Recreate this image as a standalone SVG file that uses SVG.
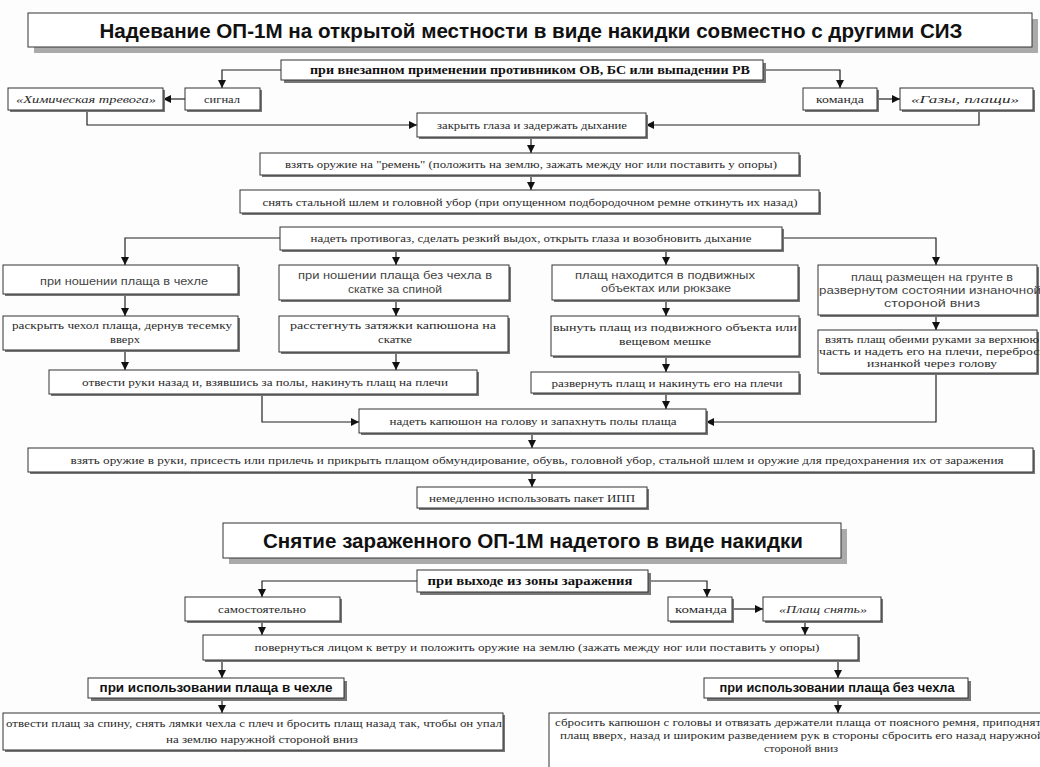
<svg xmlns="http://www.w3.org/2000/svg" width="1040" height="767" viewBox="0 0 1040 767">
<style>
.b{fill:#fff;stroke:#333;stroke-width:1}
.sh{fill:#777}
.tsh{fill:#aaa}
.s{font-family:"Liberation Serif",serif;font-size:11px;fill:#2a2a2a;text-anchor:middle;dominant-baseline:central}
.i{font-style:italic}
.sb{font-family:"Liberation Serif",serif;font-size:12px;font-weight:bold;fill:#111;text-anchor:middle;dominant-baseline:central}
.a{font-family:"Liberation Sans",sans-serif;font-size:11.5px;fill:#444;text-anchor:middle;dominant-baseline:central}
.ab{font-family:"Liberation Sans",sans-serif;font-size:12px;font-weight:bold;fill:#111;text-anchor:middle;dominant-baseline:central}
.t{font-family:"Liberation Sans",sans-serif;font-size:20px;font-weight:bold;fill:#111;text-anchor:middle;dominant-baseline:central}
.c{fill:none;stroke:#222;stroke-width:1.2}
</style>
<defs>
<marker id="ar" markerUnits="userSpaceOnUse" markerWidth="9" markerHeight="9" refX="8" refY="4" orient="auto">
<path d="M0,0 L8,4 L0,8 z" fill="#111"/>
</marker>
</defs>
<rect width="1040" height="767" fill="#fdfdfd"/>

<g id="connectors">
<path class="c" d="M281,70 H222 V88" marker-end="url(#ar)"/>
<path class="c" d="M763,70 H840 V88" marker-end="url(#ar)"/>
<path class="c" d="M185,99 H163" marker-end="url(#ar)"/>
<path class="c" d="M877,99 H900" marker-end="url(#ar)"/>
<path class="c" d="M87,110 V125 H417" marker-end="url(#ar)"/>
<path class="c" d="M979,110 V125 H646" marker-end="url(#ar)"/>
<path class="c" d="M531,137 V153" marker-end="url(#ar)"/>
<path class="c" d="M531,175 V190" marker-end="url(#ar)"/>
<path class="c" d="M280,238 H125 V265" marker-end="url(#ar)"/>
<path class="c" d="M782,238 H936 V265" marker-end="url(#ar)"/>
<path class="c" d="M396,250 V265" marker-end="url(#ar)"/>
<path class="c" d="M666,250 V265" marker-end="url(#ar)"/>
<path class="c" d="M125,294 V316" marker-end="url(#ar)"/>
<path class="c" d="M396,300 V316" marker-end="url(#ar)"/>
<path class="c" d="M666,300 V316" marker-end="url(#ar)"/>
<path class="c" d="M936,315 V330" marker-end="url(#ar)"/>
<path class="c" d="M125,350 V370" marker-end="url(#ar)"/>
<path class="c" d="M396,352 V370" marker-end="url(#ar)"/>
<path class="c" d="M666,356 V372" marker-end="url(#ar)"/>
<path class="c" d="M262,394 V422 H359" marker-end="url(#ar)"/>
<path class="c" d="M666,393 V409" marker-end="url(#ar)"/>
<path class="c" d="M936,373 V422 H706" marker-end="url(#ar)"/>
<path class="c" d="M532,433 V448" marker-end="url(#ar)"/>
<path class="c" d="M532,472 V487" marker-end="url(#ar)"/>
<path class="c" d="M417,581 H262 V597" marker-end="url(#ar)"/>
<path class="c" d="M648,581 H707 V597" marker-end="url(#ar)"/>
<path class="c" d="M732,609 H763" marker-end="url(#ar)"/>
<path class="c" d="M262,621 V635" marker-end="url(#ar)"/>
<path class="c" d="M805,621 V635" marker-end="url(#ar)"/>
<path class="c" d="M222,660 V678" marker-end="url(#ar)"/>
<path class="c" d="M838,660 V678" marker-end="url(#ar)"/>
<path class="c" d="M222,698 V713" marker-end="url(#ar)"/>
<path class="c" d="M838,698 V713" marker-end="url(#ar)"/>
</g>

<g id="title1">
<rect class="tsh" x="34" y="19" width="1004" height="34"/>
<rect class="b" x="28" y="13" width="1004" height="34"/>
<text class="t" x="531" y="31" textLength="863" lengthAdjust="spacingAndGlyphs">Надевание ОП-1М на открытой местности в виде накидки совместно с другими СИЗ</text>
</g>

<g id="n_vnezap">
<rect class="sh" x="284" y="63" width="482" height="20"/>
<rect class="b" x="281" y="60" width="482" height="20"/>
<text class="sb" x="530" y="70" textLength="440" lengthAdjust="spacingAndGlyphs">при внезапном применении противником ОВ, БС или выпадении РВ</text>
</g>

<g id="n_him">
<rect class="sh" x="10" y="90" width="155" height="22"/>
<rect class="b" x="8" y="88" width="155" height="22"/>
<text class="s i" x="86" y="99" textLength="140" lengthAdjust="spacingAndGlyphs">«Химическая тревога»</text>
</g>

<g id="n_signal">
<rect class="sh" x="187" y="90" width="75" height="22"/>
<rect class="b" x="185" y="88" width="75" height="22"/>
<text class="s" x="222" y="99" textLength="36" lengthAdjust="spacingAndGlyphs">сигнал</text>
</g>

<g id="n_komanda1">
<rect class="sh" x="805" y="90" width="74" height="22"/>
<rect class="b" x="803" y="88" width="74" height="22"/>
<text class="s" x="840" y="99" textLength="48" lengthAdjust="spacingAndGlyphs">команда</text>
</g>

<g id="n_gazy">
<rect class="sh" x="902" y="90" width="133" height="22"/>
<rect class="b" x="900" y="88" width="133" height="22"/>
<text class="s i" x="965" y="99" textLength="108" lengthAdjust="spacingAndGlyphs">«Газы, плащи»</text>
</g>

<g id="n_zakryt">
<rect class="sh" x="419" y="115" width="229" height="24"/>
<rect class="b" x="417" y="113" width="229" height="24"/>
<text class="s" x="532" y="125" textLength="190" lengthAdjust="spacingAndGlyphs">закрыть глаза и задержать дыхание</text>
</g>

<g id="n_oruzhie">
<rect class="sh" x="262" y="155" width="539" height="22"/>
<rect class="b" x="260" y="153" width="539" height="22"/>
<text class="s" x="531" y="164" textLength="492" lengthAdjust="spacingAndGlyphs">взять оружие на "ремень" (положить на землю, зажать между ног или поставить у опоры)</text>
</g>

<g id="n_shlem">
<rect class="sh" x="242" y="192" width="579" height="23"/>
<rect class="b" x="240" y="190" width="579" height="23"/>
<text class="s" x="530" y="202" textLength="535" lengthAdjust="spacingAndGlyphs">снять стальной шлем и головной убор (при опущенном подбородочном ремне откинуть их назад)</text>
</g>

<g id="n_protivogaz">
<rect class="sh" x="282" y="229" width="502" height="23"/>
<rect class="b" x="280" y="227" width="502" height="23"/>
<text class="s" x="531" y="238" textLength="441" lengthAdjust="spacingAndGlyphs">надеть противогаз, сделать резкий выдох, открыть глаза и возобновить дыхание</text>
</g>

<g id="n_r1">
<rect class="sh" x="5" y="267" width="235" height="29"/>
<rect class="b" x="3" y="265" width="235" height="29"/>
<text class="a" x="124" y="281" textLength="168" lengthAdjust="spacingAndGlyphs">при ношении плаща в чехле</text>
</g>

<g id="n_r2">
<rect class="sh" x="281" y="267" width="230" height="35"/>
<rect class="b" x="279" y="265" width="230" height="35"/>
<text class="a" x="395" y="275" textLength="194" lengthAdjust="spacingAndGlyphs">при ношении плаща без чехла в</text>
<text class="a" x="395" y="289" textLength="94" lengthAdjust="spacingAndGlyphs">скатке за спиной</text>
</g>

<g id="n_r3">
<rect class="sh" x="554" y="267" width="246" height="35"/>
<rect class="b" x="552" y="265" width="246" height="35"/>
<text class="a" x="665" y="275" textLength="180" lengthAdjust="spacingAndGlyphs">плащ находится в подвижных</text>
<text class="a" x="666" y="288" textLength="130" lengthAdjust="spacingAndGlyphs">объектах или рюкзаке</text>
</g>

<g id="n_r4">
<rect class="sh" x="820" y="267" width="219" height="50"/>
<rect class="b" x="818" y="265" width="219" height="50"/>
<text class="a" x="932" y="277" textLength="162" lengthAdjust="spacingAndGlyphs">плащ размещен на грунте в</text>
<text class="a" x="930" y="290" textLength="222" lengthAdjust="spacingAndGlyphs">развернутом состоянии изнаночной</text>
<text class="a" x="932" y="303" textLength="96" lengthAdjust="spacingAndGlyphs">стороной вниз</text>
</g>

<g id="n_r1b">
<rect class="sh" x="5" y="318" width="235" height="34"/>
<rect class="b" x="3" y="316" width="235" height="34"/>
<text class="s" x="122" y="325" textLength="220" lengthAdjust="spacingAndGlyphs">раскрыть чехол плаща, дернув тесемку</text>
<text class="s" x="125" y="339" textLength="30" lengthAdjust="spacingAndGlyphs">вверх</text>
</g>

<g id="n_r2b">
<rect class="sh" x="281" y="318" width="229" height="36"/>
<rect class="b" x="279" y="316" width="229" height="36"/>
<text class="s" x="393" y="325" textLength="206" lengthAdjust="spacingAndGlyphs">расстегнуть затяжки капюшона на</text>
<text class="s" x="395" y="339" textLength="34" lengthAdjust="spacingAndGlyphs">скатке</text>
</g>

<g id="n_r3b">
<rect class="sh" x="553" y="318" width="248" height="40"/>
<rect class="b" x="551" y="316" width="248" height="40"/>
<text class="s" x="675" y="327" textLength="244" lengthAdjust="spacingAndGlyphs">вынуть плащ из подвижного объекта или</text>
<text class="s" x="665" y="341" textLength="92" lengthAdjust="spacingAndGlyphs">вещевом мешке</text>
</g>

<g id="n_r4b">
<rect class="sh" x="820" y="332" width="219" height="43"/>
<rect class="b" x="818" y="330" width="219" height="43"/>
<text class="s" x="932" y="339" textLength="214" lengthAdjust="spacingAndGlyphs">взять плащ обеими руками за верхнюю</text>
<text class="s" x="936" y="351" textLength="234" lengthAdjust="spacingAndGlyphs">часть и надеть его на плечи, перебросив</text>
<text class="s" x="932" y="363" textLength="130" lengthAdjust="spacingAndGlyphs">изнанкой через голову</text>
</g>

<g id="n_otvesti">
<rect class="sh" x="51" y="372" width="428" height="24"/>
<rect class="b" x="49" y="370" width="428" height="24"/>
<text class="s" x="265" y="382" textLength="366" lengthAdjust="spacingAndGlyphs">отвести руки назад и, взявшись за полы, накинуть плащ на плечи</text>
</g>

<g id="n_razvernut">
<rect class="sh" x="533" y="374" width="268" height="21"/>
<rect class="b" x="531" y="372" width="268" height="21"/>
<text class="s" x="667" y="383" textLength="231" lengthAdjust="spacingAndGlyphs">развернуть плащ и накинуть его на плечи</text>
</g>

<g id="n_kapyushon">
<rect class="sh" x="361" y="411" width="347" height="24"/>
<rect class="b" x="359" y="409" width="347" height="24"/>
<text class="s" x="533" y="421" textLength="287" lengthAdjust="spacingAndGlyphs">надеть капюшон на голову и запахнуть полы плаща</text>
</g>

<g id="n_vzyat">
<rect class="sh" x="30" y="450" width="1005" height="24"/>
<rect class="b" x="28" y="448" width="1005" height="24"/>
<text class="s" x="537" y="460" textLength="933" lengthAdjust="spacingAndGlyphs">взять оружие в руки, присесть или прилечь и прикрыть плащом обмундирование, обувь, головной убор, стальной шлем и оружие для предохранения их от заражения</text>
</g>

<g id="n_ipp">
<rect class="sh" x="419" y="489" width="230" height="21"/>
<rect class="b" x="417" y="487" width="230" height="21"/>
<text class="s" x="532" y="498" textLength="206" lengthAdjust="spacingAndGlyphs">немедленно использовать пакет ИПП</text>
</g>

<g id="title2">
<rect class="tsh" x="229" y="529" width="618" height="35"/>
<rect class="b" x="223" y="523" width="618" height="35"/>
<text class="t" x="533" y="541" textLength="540" lengthAdjust="spacingAndGlyphs">Снятие зараженного ОП-1М надетого в виде накидки</text>
</g>

<g id="n_vyhod">
<rect class="sh" x="420" y="573" width="231" height="22"/>
<rect class="b" x="417" y="570" width="231" height="22"/>
<text class="sb" x="530" y="581" textLength="205" lengthAdjust="spacingAndGlyphs">при выходе из зоны заражения</text>
</g>

<g id="n_samost">
<rect class="sh" x="187" y="599" width="155" height="24"/>
<rect class="b" x="185" y="597" width="155" height="24"/>
<text class="s" x="262" y="609" textLength="88" lengthAdjust="spacingAndGlyphs">самостоятельно</text>
</g>

<g id="n_komanda2">
<rect class="sh" x="670" y="599" width="64" height="24"/>
<rect class="b" x="668" y="597" width="64" height="24"/>
<text class="s" x="701" y="609" textLength="52" lengthAdjust="spacingAndGlyphs">команда</text>
</g>

<g id="n_plashch">
<rect class="sh" x="765" y="599" width="118" height="24"/>
<rect class="b" x="763" y="597" width="118" height="24"/>
<text class="s i" x="823" y="609" textLength="88" lengthAdjust="spacingAndGlyphs">«Плащ снять»</text>
</g>

<g id="n_povernut">
<rect class="sh" x="205" y="637" width="655" height="25"/>
<rect class="b" x="203" y="635" width="655" height="25"/>
<text class="s" x="537" y="647" textLength="565" lengthAdjust="spacingAndGlyphs">повернуться лицом к ветру и положить оружие на землю (зажать между ног или поставить у опоры)</text>
</g>

<g id="n_vchehle">
<rect class="sh" x="91" y="681" width="256" height="20"/>
<rect class="b" x="88" y="678" width="256" height="20"/>
<text class="ab" x="216" y="688" textLength="233" lengthAdjust="spacingAndGlyphs">при использовании плаща в чехле</text>
</g>

<g id="n_bezchehla">
<rect class="sh" x="707" y="681" width="264" height="20"/>
<rect class="b" x="704" y="678" width="264" height="20"/>
<text class="ab" x="837" y="688" textLength="235" lengthAdjust="spacingAndGlyphs">при использовании плаща без чехла</text>
</g>

<g id="n_bottomleft">
<rect class="sh" x="5" y="715" width="500" height="37"/>
<rect class="b" x="3" y="713" width="500" height="37"/>
<text class="s" x="254" y="723" textLength="496" lengthAdjust="spacingAndGlyphs">отвести плащ за спину, снять лямки чехла с плеч и бросить плащ назад так, чтобы он упал</text>
<text class="s" x="262" y="739" textLength="192" lengthAdjust="spacingAndGlyphs">на землю наружной стороной вниз</text>
</g>

<g id="n_bottomright">
<rect class="sh" x="551" y="715" width="500" height="60"/>
<rect class="b" x="549" y="713" width="500" height="60"/>
<text class="s" x="801" y="722" textLength="492" lengthAdjust="spacingAndGlyphs">сбросить капюшон с головы и отвязать держатели плаща от поясного ремня, приподнять</text>
<text class="s" x="802" y="735" textLength="484" lengthAdjust="spacingAndGlyphs">плащ вверх, назад и широким разведением рук в стороны сбросить его назад наружной</text>
<text class="s" x="801" y="748" textLength="74" lengthAdjust="spacingAndGlyphs">стороной вниз</text>
</g>
</svg>
